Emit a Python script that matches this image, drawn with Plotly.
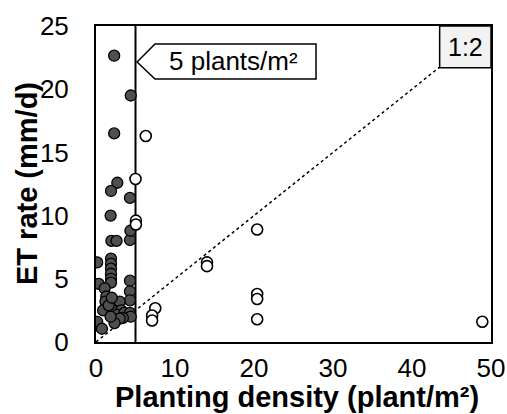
import plotly.graph_objects as go

# Filled points: planting density <= 5 plants/m²
dense_x = [2.3, 4.4, 2.3, 2.7, 1.9, 4.3, 1.85, 1.95, 2.6, 4.3, 4.35,
           0.15, 1.9, 1.9, 1.9, 1.9, 1.9, 1.9, 0.35, 4.3, 1.1, 4.3,
           1.3, 4.3, 1.2, 3.0, 0.9, 2.1, 3.2, 2.7, 3.6, 4.3, 4.4,
           3.4, 3.0, 0.15, 0.75, 2.35, 1.85, 1.6, 2.0]
dense_y = [22.65, 19.5, 16.5, 12.6, 11.95, 11.4, 10.0, 8.0, 8.0, 8.07, 8.8,
           6.3, 6.6, 6.2, 5.8, 5.4, 5.0, 4.7, 4.6, 4.85, 4.25, 4.0,
           3.6, 3.3, 3.2, 3.2, 2.5, 2.5, 2.5, 2.15, 2.3, 2.3, 2.0,
           1.9, 1.85, 1.6, 1.05, 1.5, 2.0, 2.9, 3.5]

# Open points: planting density > 5 plants/m²
sparse_x = [6.3, 5.0, 5.05, 5.05, 20.4, 14.05, 14.05, 20.4, 20.4, 20.4, 7.5, 7.1, 7.1, 48.9]
sparse_y = [16.3, 12.9, 9.6, 9.3, 8.9, 6.3, 6.0, 3.8, 3.4, 1.8, 2.67, 2.1, 1.7, 1.6]

# 1:2 reference line
ref_x = [0, 43.5]
ref_y = [0, 21.75]

threshold = 5
x_ticks = [0, 10, 20, 30, 40, 50]
y_ticks = [0, 5, 10, 15, 20, 25]
x_title = "Planting density (plant/m²)"
y_title = "ET rate (mm/d)"

FONT = "Liberation Sans, Arial, sans-serif"

fig = go.Figure()
fig.add_trace(go.Scatter(x=ref_x, y=ref_y, mode="lines",
                         line=dict(color="black", width=1.5, dash="dot"),
                         showlegend=False, hoverinfo="skip"))
fig.add_trace(go.Scatter(x=dense_x, y=dense_y, mode="markers",
                         marker=dict(size=11, color="#4f4f4f",
                                     line=dict(color="black", width=1.3)),
                         showlegend=False))
fig.add_trace(go.Scatter(x=sparse_x, y=sparse_y, mode="markers",
                         marker=dict(size=11, color="white",
                                     line=dict(color="black", width=1.6)),
                         showlegend=False))

# vertical threshold line
fig.add_shape(type="line", x0=threshold, x1=threshold, y0=0, y1=25,
              xref="x", yref="y", line=dict(color="black", width=2), layer="below")

# callout box "5 plants/m²"
fig.add_shape(type="path",
              path="M 5.2 22.15 L 7.47 23.58 L 27.85 23.58 L 27.85 20.81 L 7.47 20.81 Z",
              xref="x", yref="y", fillcolor="white", line=dict(color="black", width=1.5))
fig.add_annotation(x=17.4, y=22.2, xref="x", yref="y", text="5 plants/m²",
                   showarrow=False, font=dict(family=FONT, size=26, color="black"))

# 1:2 box
fig.add_shape(type="rect", x0=43.5, x1=50, y0=21.7, y1=25, xref="x", yref="y",
              fillcolor="#f2f2f2", line=dict(color="black", width=1.5))
fig.add_annotation(x=46.75, y=23.35, xref="x", yref="y", text="1:2",
                   showarrow=False, font=dict(family=FONT, size=25, color="black"))

# axis titles
fig.add_annotation(x=0.5, y=0, xref="paper", yref="paper", xshift=3, yshift=-38,
                   xanchor="center", yanchor="top", showarrow=False, borderpad=0,
                   text="<b>" + x_title + "</b>",
                   font=dict(family=FONT, size=29, color="black"))
fig.add_annotation(x=0, y=0.5, xref="paper", yref="paper", xshift=-69,
                   xanchor="center", yanchor="middle", showarrow=False,
                   textangle=-90, text="<b>" + y_title + "</b>",
                   font=dict(family=FONT, size=29, color="black"))

fig.update_layout(
    width=507, height=414,
    margin=dict(l=96, r=16, t=26, b=72, autoexpand=False),
    paper_bgcolor="white", plot_bgcolor="white",
    font=dict(family=FONT, color="black"),
    xaxis=dict(range=[0, 50], tickvals=x_ticks, showgrid=False, zeroline=False,
               showline=True, mirror=True, linecolor="black", linewidth=2,
               automargin=False,
               ticks="", tickfont=dict(size=26), ticklabelstandoff=2),
    yaxis=dict(range=[0, 25], tickvals=y_ticks, showgrid=False, zeroline=False,
               showline=True, mirror=True, linecolor="black", linewidth=2,
               automargin=False,
               ticks="", tickfont=dict(size=26), ticklabelstandoff=20),
)

fig.write_html("out.html",
               config={"displayModeBar": False},
               post_script="document.body.style.margin='0';"
                           "document.body.style.overflow='hidden';")
